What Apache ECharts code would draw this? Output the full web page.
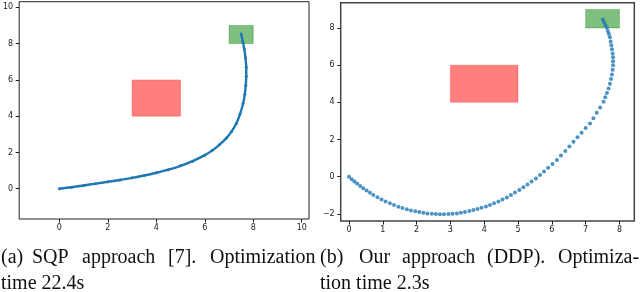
<!DOCTYPE html>
<html>
<head>
<meta charset="utf-8">
<script src="https://cdn.jsdelivr.net/npm/echarts@6/dist/echarts.min.js"></script>
<style>
html,body{margin:0;padding:0;background:#fff;}
#c{width:640px;height:292px;}
</style>
</head>
<body>
<div id="c"></div>
<script>
// ---- data ----
var sqpX = [0,0.5,1.0,1.5,2.0,2.5,3.0,3.5,4.0,4.5,5.0,5.5,6.0,6.3,6.6,6.9,7.1,7.3,7.45,7.58,7.65,7.69,7.71,7.71,7.68,7.63,7.57,7.5];
var sqpY = [0,0.08,0.18,0.28,0.38,0.48,0.6,0.73,0.88,1.05,1.26,1.52,1.85,2.1,2.42,2.8,3.15,3.6,4.1,4.7,5.2,5.7,6.2,6.7,7.2,7.7,8.1,8.53];

var ddpX = [0.00,0.08,0.16,0.24,0.33,0.42,0.52,0.62,0.72,0.84,0.96,1.08,1.21,1.33,1.46,1.58,1.71,1.83,1.96,2.08,2.20,2.32,2.45,2.57,2.69,2.81,2.94,3.06,3.19,3.31,3.43,3.56,3.68,3.80,3.92,4.05,4.17,4.29,4.42,4.54,4.67,4.79,4.91,5.04,5.16,5.28,5.40,5.53,5.65,5.77,5.89,6.02,6.15,6.27,6.40,6.52,6.64,6.76,6.88,7.00,7.13,7.23,7.33,7.43,7.53,7.58,7.63,7.68,7.72,7.75,7.78,7.80,7.81,7.81,7.81,7.80,7.78,7.76,7.74,7.72,7.69,7.66,7.63,7.59,7.55,7.51];
var ddpY = [0.00,-0.13,-0.25,-0.37,-0.50,-0.62,-0.74,-0.86,-0.98,-1.10,-1.22,-1.33,-1.43,-1.52,-1.61,-1.68,-1.75,-1.81,-1.86,-1.90,-1.93,-1.97,-1.99,-2.01,-2.02,-2.02,-2.01,-1.99,-1.97,-1.93,-1.89,-1.84,-1.79,-1.73,-1.67,-1.60,-1.52,-1.43,-1.33,-1.22,-1.11,-0.98,-0.85,-0.71,-0.57,-0.42,-0.26,-0.09,0.09,0.28,0.48,0.69,0.90,1.14,1.38,1.63,1.88,2.12,2.37,2.62,2.87,3.15,3.44,3.73,4.03,4.27,4.51,4.75,5.00,5.25,5.50,5.75,6.00,6.21,6.42,6.63,6.85,7.07,7.28,7.50,7.67,7.83,8.00,8.15,8.31,8.46];

// rectangles: [xmin, ymin, xmax, ymax]
var obstacle = [3, 4, 5, 6];
var goal = [7, 8, 8, 9];

var leftXTicks = [0,2,4,6,8,10];
var leftYTicks = [0,2,4,6,8,10];
var rightXTicks = [0,1,2,3,4,5,6,7,8];
var rightYTicks = [-2,0,2,4,6,8];

var captionA1 = ["(a)","SQP","approach","[7].","Optimization"];
var captionA2 = "time 22.4s";
var captionB1 = ["(b)","Our","approach","(DDP).","Optimiza-"];
var captionB2 = "tion time 2.3s";

// ---- build ----
function zip(xs, ys){ var o=[]; for(var i=0;i<xs.length;i++) o.push([xs[i],ys[i]]); return o; }
function rectArea(r){ return [[{coord:[r[0],r[1]]},{coord:[r[2],r[3]]}]]; }

var blue = '#1f77b4';
var tickFont = {fontFamily:'DejaVu Sans', fontSize:8, color:'#222'};
function fmt(v){ return String(v).replace('-','\u2212'); }

function ax(idx, min, max, ticks, margin){
  return {type:'value', gridIndex:idx, min:min, max:max, splitLine:{show:false},
    axisLine:{show:false, onZero:false},
    axisTick:{show:true, length:3.5, lineStyle:{color:'#222', width:1}, customValues:ticks},
    axisLabel:Object.assign({margin:margin, customValues:ticks, formatter:fmt}, tickFont)};
}

var graphics = [];
var xa = [1,32,82,168,210];
var xb = [320,359,402,487,558];
var capFont = '20px "Liberation Serif"';
function addText(t, x, y){
  graphics.push({type:'text', x:x, y:y, style:{text:t, font:capFont, fill:'#111', textVerticalAlign:'bottom'}});
}
for (var i=0;i<captionA1.length;i++) addText(captionA1[i], xa[i], 268);
addText(captionA2, 1, 294);
for (var j=0;j<captionB1.length;j++) addText(captionB1[j], xb[j], 268);
addText(captionB2, 320, 294);

var chart = echarts.init(document.getElementById('c'), null, {renderer:'canvas'});
chart.setOption({
  animation:false,
  backgroundColor:'#fff',
  grid:[
    {left:16.7, top:1.7, width:292.3, height:217.3, show:true, borderColor:'#222', borderWidth:1, backgroundColor:'transparent'},
    {left:340.7, top:2.7, width:293.6, height:218.3, show:true, borderColor:'#444', borderWidth:1.5, backgroundColor:'transparent'}
  ],
  xAxis:[ax(0,-1.66,10.3,leftXTicks,5), ax(1,-0.246,8.44,rightXTicks,5)],
  yAxis:[ax(0,-1.67,10.31,leftYTicks,6), ax(1,-2.38,9.36,rightYTicks,6)],
  series:[
    {type:'line', xAxisIndex:0, yAxisIndex:0, data:zip(sqpX,sqpY), smooth:0.3,
      symbol:'circle', symbolSize:3, showSymbol:true,
      itemStyle:{color:blue}, lineStyle:{color:blue, width:2.4},
      markArea:{silent:true, data:rectArea(obstacle), itemStyle:{color:'rgba(255,0,0,0.5)', borderColor:'rgba(255,0,0,0.25)', borderWidth:1}}
    },
    {type:'line', xAxisIndex:0, yAxisIndex:0, data:[],
      markArea:{silent:true, data:rectArea(goal), itemStyle:{color:'rgba(0,128,0,0.5)', borderColor:'rgba(0,128,0,0.3)', borderWidth:1}}
    },
    {type:'scatter', xAxisIndex:1, yAxisIndex:1, data:zip(ddpX,ddpY), symbol:'circle', symbolSize:4,
      itemStyle:{color:blue},
      markArea:{silent:true, data:rectArea(obstacle), itemStyle:{color:'rgba(255,0,0,0.5)', borderColor:'rgba(255,0,0,0.25)', borderWidth:1}}
    },
    {type:'scatter', xAxisIndex:1, yAxisIndex:1, data:[],
      markArea:{silent:true, data:rectArea(goal), itemStyle:{color:'rgba(0,128,0,0.5)', borderColor:'rgba(0,128,0,0.3)', borderWidth:1}}
    }
  ],
  graphic:graphics
});
</script>
</body>
</html>
